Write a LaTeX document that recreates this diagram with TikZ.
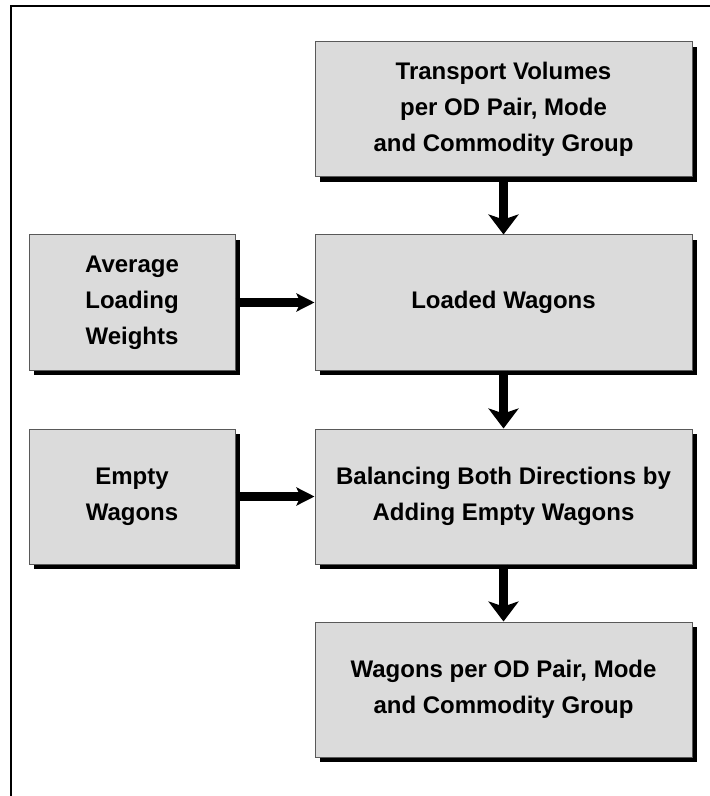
\documentclass[tikz,border=0pt]{standalone}
\usepackage{fontspec}
\setmainfont{Liberation Sans}
\usepackage{tikz}
\usetikzlibrary{arrows.meta,shadows}

\begin{document}
\begin{tikzpicture}[x=0.5pt,y=-0.5pt,
  stagebox/.style={draw=black!65,line width=0.5pt,fill=black!14,
    drop shadow={shadow xshift=2.5pt,shadow yshift=-2.5pt,fill=black,opacity=1},
    minimum width=188.5pt,minimum height=67.5pt,align=center,
    font=\fontsize{12}{18}\selectfont\bfseries},
  inputbox/.style={stagebox,minimum width=103pt},
  vflow/.style={line width=4.5pt,-{Stealth[length=10pt,width=15pt,inset=2.5pt]}},
  hflow/.style={line width=4.5pt,-{Stealth[length=9pt,width=9pt,inset=2pt]}}]
\useasboundingbox (0,0) rectangle (710,796);
\draw[line width=1pt] (712,6) -- (11,6) -- (11,798);
\node[stagebox] (volumes) at (503.5,109.5) {Transport Volumes\\per OD Pair, Mode\\and Commodity Group};
\node[stagebox] (loaded) at (503.5,302.5) {Loaded Wagons};
\node[stagebox] (balance) at (503.5,496.5) {Balancing Both Directions by\\Adding Empty Wagons};
\node[stagebox] (result) at (503.5,689.5) {Wagons per OD Pair, Mode\\and Commodity Group};
\node[inputbox] (weights) at (132,302.5) {Average\\Loading\\Weights};
\node[inputbox] (empty) at (132,496.5) {Empty\\Wagons};
\draw[vflow] (volumes.south) -- (loaded.north);
\draw[vflow] (loaded.south) -- (balance.north);
\draw[vflow] (balance.south) -- (result.north);
\draw[hflow] (weights.east) -- (loaded.west);
\draw[hflow] (empty.east) -- (balance.west);
\end{tikzpicture}
\end{document}
